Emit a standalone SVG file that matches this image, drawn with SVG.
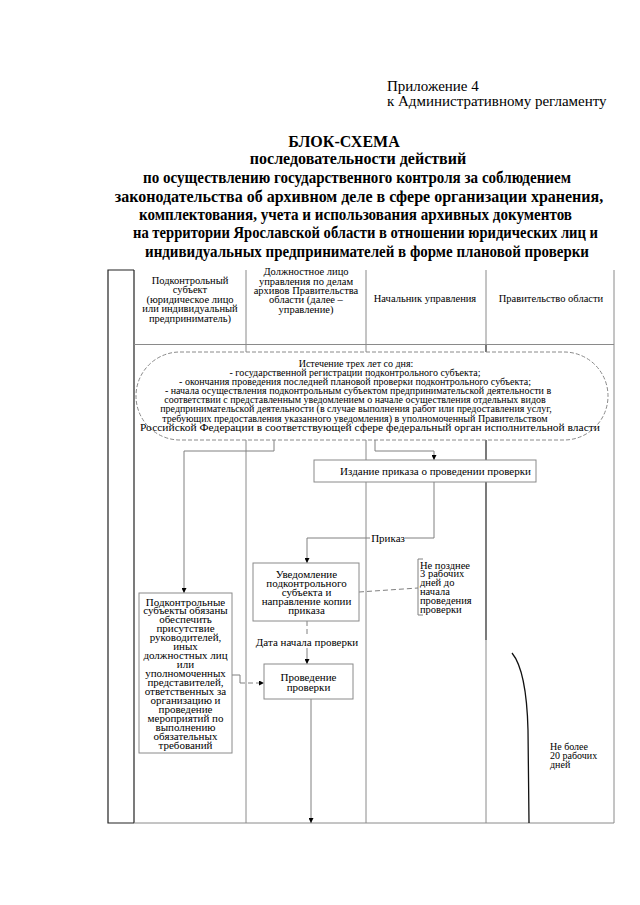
<svg xmlns="http://www.w3.org/2000/svg" width="640" height="905" viewBox="0 0 640 905">
<style>
text{font-family:"Liberation Serif","Times New Roman",serif;fill:#000}
.hd{font-size:15px}
.tt{font-size:16px;font-weight:bold;text-anchor:middle}
.th{font-size:10.5px;text-anchor:middle}
.ov{font-size:10px;text-anchor:middle}
.bx{font-size:11px;text-anchor:middle}
.nt{font-size:10.5px}
.gl{stroke:#8a8a8a;stroke-width:1;fill:none}
.dk{stroke:#222;stroke-width:1.2;fill:none}
.box{fill:#fff;stroke:#8a8a8a;stroke-width:1}
.cn{stroke:#808080;stroke-width:1;fill:none}
.dash{stroke:#808080;stroke-width:1;fill:none;stroke-dasharray:5 3}
</style>
<defs>
<marker id="ah" viewBox="0 0 6 6" refX="6" refY="3" markerWidth="5" markerHeight="5" orient="auto" markerUnits="userSpaceOnUse"><path d="M0,0 L6,3 L0,6 z" fill="#000"/></marker>
</defs>
<rect width="640" height="905" fill="#fff"/>

<g id="header">
<text class="hd" x="387" y="90.5">Приложение 4</text>
<text class="hd" x="387" y="106">к Административному регламенту</text>
</g>

<g id="title">
<text class="tt" x="344" y="146.5">БЛОК-СХЕМА</text>
<text class="tt" x="358" y="163.5">последовательности действий</text>
<text class="tt" x="357" y="183" textLength="428" lengthAdjust="spacingAndGlyphs">по осуществлению государственного контроля за соблюдением</text>
<text class="tt" x="359" y="201.5">законодательства об архивном деле в сфере организации хранения,</text>
<text class="tt" x="355.5" y="219.5" textLength="433" lengthAdjust="spacingAndGlyphs">комплектования, учета и использования архивных документов</text>
<text class="tt" x="365.5" y="238" textLength="465" lengthAdjust="spacingAndGlyphs">на территории Ярославской области в отношении юридических лиц и</text>
<text class="tt" x="367" y="257" textLength="444" lengthAdjust="spacingAndGlyphs">индивидуальных предпринимателей в форме плановой проверки</text>
</g>

<g id="table">
<path class="dk" d="M134,270 H108 V823 H134"/>
<path class="dk" d="M134,270 V823"/>
<path class="gl" d="M134,344.5 H614"/>
<path class="gl" d="M246,270 V823 M366,270 V823 M614,270 V823 M134,823 H614"/>
<path class="gl" d="M486,270 V345 M486,640 V823"/>
<path class="dk" d="M486,345 V640"/>
<text class="th" x="190" y="283.5">Подконтрольный</text>
<text class="th" x="190" y="293">субъект</text>
<text class="th" x="190" y="302.5">(юридическое лицо</text>
<text class="th" x="190" y="312">или индивидуальный</text>
<text class="th" x="190" y="321.5">предприниматель)</text>
<text class="th" x="306" y="275">Должностное лицо</text>
<text class="th" x="306" y="284.5">управления по делам</text>
<text class="th" x="306" y="293.5">архивов Правительства</text>
<text class="th" x="306" y="303">области (далее –</text>
<text class="th" x="306" y="312.5">управление)</text>
<text class="th" x="425" y="302">Начальник управления</text>
<text class="th" x="551" y="302">Правительство области</text>
</g>

<g id="start">
<rect x="136" y="352" width="472" height="88" rx="44" ry="44" fill="#fff" stroke="#8a8a8a" stroke-width="1" stroke-dasharray="4 2"/>
<text class="ov" x="356" y="366.5">Истечение трех лет со дня:</text>
<text class="ov" x="355" y="375.5">- государственной регистрации подконтрольного субъекта;</text>
<text class="ov" x="355" y="384.5">- окончания проведения последней плановой проверки подконтрольного субъекта;</text>
<text class="ov" x="358" y="393.5">- начала осуществления подконтрольным субъектом предпринимательской деятельности в</text>
<text class="ov" x="355" y="403">соответствии с представленным  уведомлением о начале осуществления отдельных видов</text>
<text class="ov" x="356" y="412">предпринимательской деятельности (в случае выполнения работ или предоставления услуг,</text>
<text class="ov" x="355" y="421.5">требующих предоставления указанного уведомления)  в уполномоченный Правительством</text>
<text class="ov" x="370" y="430.5" style="font-size:11px" textLength="460" lengthAdjust="spacingAndGlyphs">Российской Федерации в соответствующей сфере федеральный орган исполнительной власти</text>
</g>

<g id="connectors">
<path class="cn" d="M274,440 V451 H184 V593" marker-end="url(#ah)"/>
<path class="cn" d="M375,440 V451 H434 V460" marker-end="url(#ah)"/>
<path class="cn" d="M434,482 V538 H405"/>
<path class="cn" d="M370,538 H307 V563" marker-end="url(#ah)"/>
<text class="bx" x="388" y="541.5">Приказ</text>
<path class="dash" d="M307,621 V636"/>
<path class="cn" d="M307,648 V664" marker-end="url(#ah)"/>
<text class="bx" x="307" y="645.5">Дата начала проверки</text>
<path class="cn" d="M311,699 V823" marker-end="url(#ah)"/>
<path class="cn" d="M232,675 H240 V683"/>
<path class="dash" d="M240,683 H264" marker-end="url(#ah)"/>
<path class="dash" d="M359,592 L418,588"/>
<path class="cn" d="M423,559 H418 V615 H423"/>
<path d="M512,653 C521,664 527,690 528,730 L529,823" fill="none" stroke="#111" stroke-width="1.3"/>
</g>

<g id="order">
<rect class="box" x="314" y="460" width="222" height="22"/>
<text class="bx" x="435.5" y="475">Издание приказа о проведении проверки</text>
</g>

<g id="notify">
<rect class="box" x="253" y="563" width="106" height="58"/>
<text class="bx" x="306.5" y="577.5">Уведомление</text>
<text class="bx" x="306.5" y="586.5">подконтрольного</text>
<text class="bx" x="306.5" y="595.5">субъекта  и</text>
<text class="bx" x="306.5" y="604.5">направление копии</text>
<text class="bx" x="306.5" y="613.5">приказа</text>
</g>

<g id="inspect">
<rect class="box" x="264" y="664" width="89" height="35"/>
<text class="bx" x="308.5" y="680.5">Проведение</text>
<text class="bx" x="308.5" y="690.5">проверки</text>
</g>

<g id="duties">
<rect class="box" x="139" y="593" width="93" height="160"/>
<text class="bx" x="185.5" y="605.5">Подконтрольные</text>
<text class="bx" x="185.5" y="614.4">субъекты обязаны</text>
<text class="bx" x="185.5" y="623.4">обеспечить</text>
<text class="bx" x="185.5" y="632.3">присутствие</text>
<text class="bx" x="185.5" y="641.3">руководителей,</text>
<text class="bx" x="185.5" y="650.2">иных</text>
<text class="bx" x="185.5" y="659.1">должностных лиц</text>
<text class="bx" x="185.5" y="668.1">или</text>
<text class="bx" x="185.5" y="677">уполномоченных</text>
<text class="bx" x="185.5" y="686">представителей,</text>
<text class="bx" x="185.5" y="694.9">ответственных за</text>
<text class="bx" x="185.5" y="703.8">организацию и</text>
<text class="bx" x="185.5" y="712.8">проведение</text>
<text class="bx" x="185.5" y="721.7">мероприятий по</text>
<text class="bx" x="185.5" y="730.7">выполнению</text>
<text class="bx" x="185.5" y="739.6">обязательных</text>
<text class="bx" x="185.5" y="748.5">требований</text>
</g>

<g id="note-3days">
<text class="nt" x="420" y="568.5">Не позднее</text>
<text class="nt" x="420" y="577.4">3 рабочих</text>
<text class="nt" x="420" y="586.3">дней до</text>
<text class="nt" x="420" y="595.2">начала</text>
<text class="nt" x="420" y="604.1">проведения</text>
<text class="nt" x="420" y="613">проверки</text>
</g>

<g id="note-20days">
<text class="nt" x="550" y="750" style="font-size:10px">Не более</text>
<text class="nt" x="550" y="759" style="font-size:10px">20 рабочих</text>
<text class="nt" x="550" y="768" style="font-size:10px">дней</text>
</g>
</svg>
